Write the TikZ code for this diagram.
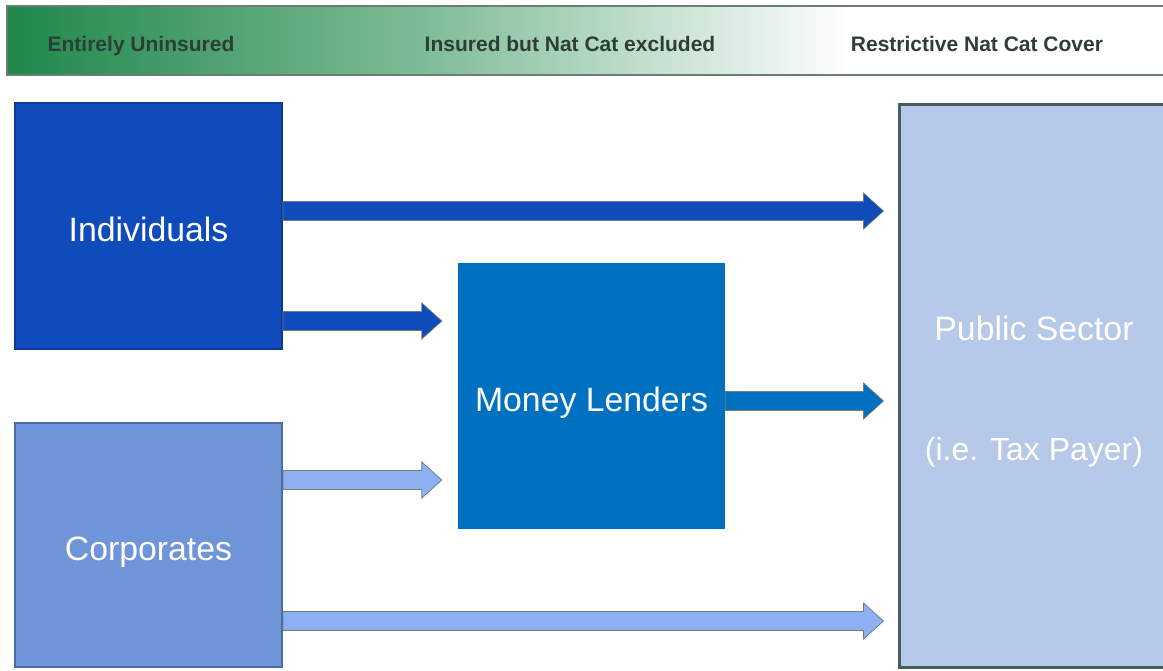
\documentclass[tikz,border=0pt]{standalone}
\usepackage{fontspec}
\setmainfont{Liberation Sans}
\usetikzlibrary{calc}
\definecolor{bangreen}{HTML}{1F884B}
\definecolor{banmid}{HTML}{7DBB96}
\definecolor{banborder}{HTML}{6B7D75}
\definecolor{bantext}{HTML}{2D3E36}
\definecolor{indfill}{HTML}{0F4BBB}
\definecolor{indborder}{HTML}{0B3A94}
\definecolor{corfill}{HTML}{6F94D8}
\definecolor{corborder}{HTML}{4E6AA6}
\definecolor{mlfill}{HTML}{0070C0}
\definecolor{pubfill}{HTML}{B7C9E9}
\definecolor{pubborder}{HTML}{4A5E58}
\definecolor{corarrow}{HTML}{8CB0F2}
\definecolor{arroutline}{HTML}{6A7F78}
\tikzset{
  bigtext/.style={text=white,anchor=base,inner sep=0pt,font=\fontsize{33.8}{40}\selectfont},
  bantxt/.style={text=bantext,anchor=base,inner sep=0pt,font=\bfseries\fontsize{21}{24}\selectfont},
  fat/.style={to path={let \p1=(\tikztostart),\p2=(\tikztotarget) in
     (\x1,\y1+9.5pt) -- (\x2-20pt,\y1+9.5pt) -- (\x2-20pt,\y1+18pt) -- (\x2,\y1)
     -- (\x2-20pt,\y1-18pt) -- (\x2-20pt,\y1-9.5pt) -- (\x1,\y1-9.5pt) -- cycle}},
  arrind/.style={fat,fill=indfill,draw=arroutline,line width=0.7pt},
  arrml/.style={fat,fill=mlfill,draw=arroutline,line width=0.7pt},
  arrcor/.style={fat,fill=corarrow,draw=arroutline,line width=0.7pt},
}
\begin{document}
\begin{tikzpicture}[x=1pt,y=-1pt]
\clip (0,0) rectangle (1163,670);
\fill[white] (0,0) rectangle (1163,670);
% banner
\shade[left color=bangreen,right color=banmid] (7,6) rectangle (420,75);
\shade[left color=banmid,right color=white] (419.5,6) rectangle (850,75);
\draw[banborder,line width=1.5pt] (7,6) rectangle (1175,75);
\node[bantxt] (b1) at (141,51.5) {Entirely Uninsured};
\node[bantxt] (b2) at (570,51.5) {Insured but Nat Cat excluded};
\node[bantxt] (b3) at (977,51.5) {Restrictive Nat Cat Cover};
% boxes
\node[draw=indborder,line width=2pt,fill=indfill,minimum width=267pt,minimum height=246pt,inner sep=0pt] (ind) at (148.5,226) {};
\node[bigtext] (indt) at (148.5,241) {Individuals};
\node[draw=corborder,line width=2pt,fill=corfill,minimum width=267pt,minimum height=244pt,inner sep=0pt] (cor) at (148.5,545) {};
\node[bigtext] (cort) at (148.5,560) {Corporates};
\node[fill=mlfill,minimum width=267pt,minimum height=266pt,inner sep=0pt] (ml) at (591.5,396) {};
\node[bigtext] (mlt) at (591.5,411) {Money Lenders};
\node[draw=pubborder,line width=3pt,fill=pubfill,minimum width=274pt,minimum height=563pt,inner sep=0pt] (pub) at (1036,385.5) {};
\node[bigtext] (pubt1) at (1034,340) {Public Sector};
\node[bigtext,font=\fontsize{32}{40}\selectfont] (pubt2) at (1034,460) {(i.e. Tax Payer)};
% arrows
\draw[arrind] ([yshift=15pt]ind.east) to ([xshift=-14pt]pub.west);
\draw[arrind] ([yshift=-95pt]ind.east) to ([xshift=-16pt]ml.west);
\draw[arrml] ([yshift=-5pt]ml.east) to ([xshift=-14pt]pub.west);
\draw[arrcor] ([yshift=65pt]cor.east) to ([xshift=-16pt]ml.west);
\draw[arrcor] ([yshift=-76pt]cor.east) to ([xshift=-14pt]pub.west);
\end{tikzpicture}
\end{document}
